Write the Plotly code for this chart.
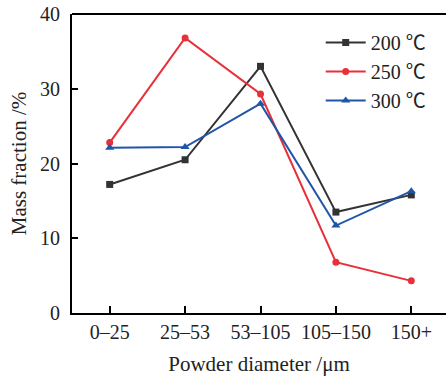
import plotly.graph_objects as go

categories = ["0–25", "25–53", "53–105", "105–150", "150+"]
s200 = [17.2, 20.5, 33.0, 13.5, 15.8]
s250 = [22.8, 36.8, 29.3, 6.8, 4.3]
s300 = [22.1, 22.2, 28.0, 11.7, 16.3]
temps = ["200", "250", "300"]
colors = ["#333333", "#e8303a", "#2155a8"]
symbols = ["square", "circle", "triangle-up"]
yticks = [0, 10, 20, 30, 40]

FONT = "Liberation Serif, Noto Sans CJK SC, serif"
TXT = "#222222"
fig = go.Figure()
for vals, t, col, sym in zip([s200, s250, s300], temps, colors, symbols):
    fig.add_trace(go.Scatter(
        x=list(range(len(categories))), y=vals,
        name=t + " <span style='font-family:Noto Sans CJK SC'>℃</span>",
        mode="lines+markers",
        line=dict(color=col, width=2),
        marker=dict(symbol=sym, size=7 if sym != "triangle-up" else 8, color=col),
    ))

fig.update_layout(
    width=446, height=376,
    margin=dict(l=72, r=0, t=14, b=63),
    paper_bgcolor="white", plot_bgcolor="white",
    font=dict(family=FONT, size=20, color=TXT),
    showlegend=True,
    legend=dict(x=0.665, y=0.97, xanchor="left", yanchor="top",
                font=dict(family=FONT, size=20, color=TXT),
                bgcolor="rgba(0,0,0,0)", itemwidth=40),
    xaxis=dict(
        range=[-0.5, 4.46], tickmode="array",
        tickvals=list(range(len(categories))), ticktext=categories,
        showline=True, linecolor="black", linewidth=2,
        ticks="inside", ticklen=7, tickwidth=2, tickcolor="black",
        showgrid=False, zeroline=False,
        tickfont=dict(family=FONT, size=20, color=TXT),
        title=dict(text="Powder diameter /μm", font=dict(family=FONT, size=21, color=TXT), standoff=14),
    ),
    yaxis=dict(
        range=[0, 40], tickmode="array", tickvals=yticks,
        showline=True, linecolor="black", linewidth=2,
        ticks="inside", ticklen=6, tickwidth=2, tickcolor="black",
        showgrid=False, zeroline=False,
        tickfont=dict(family=FONT, size=20, color=TXT),
        ticklabelstandoff=6,
        title=dict(text="Mass fraction /%", font=dict(family=FONT, size=21, color=TXT), standoff=8),
    ),
)
fig.add_shape(type="line", xref="paper", yref="paper", x0=0, x1=1, y0=1, y1=1,
              line=dict(color="black", width=2))

fig.write_html("out.html")
